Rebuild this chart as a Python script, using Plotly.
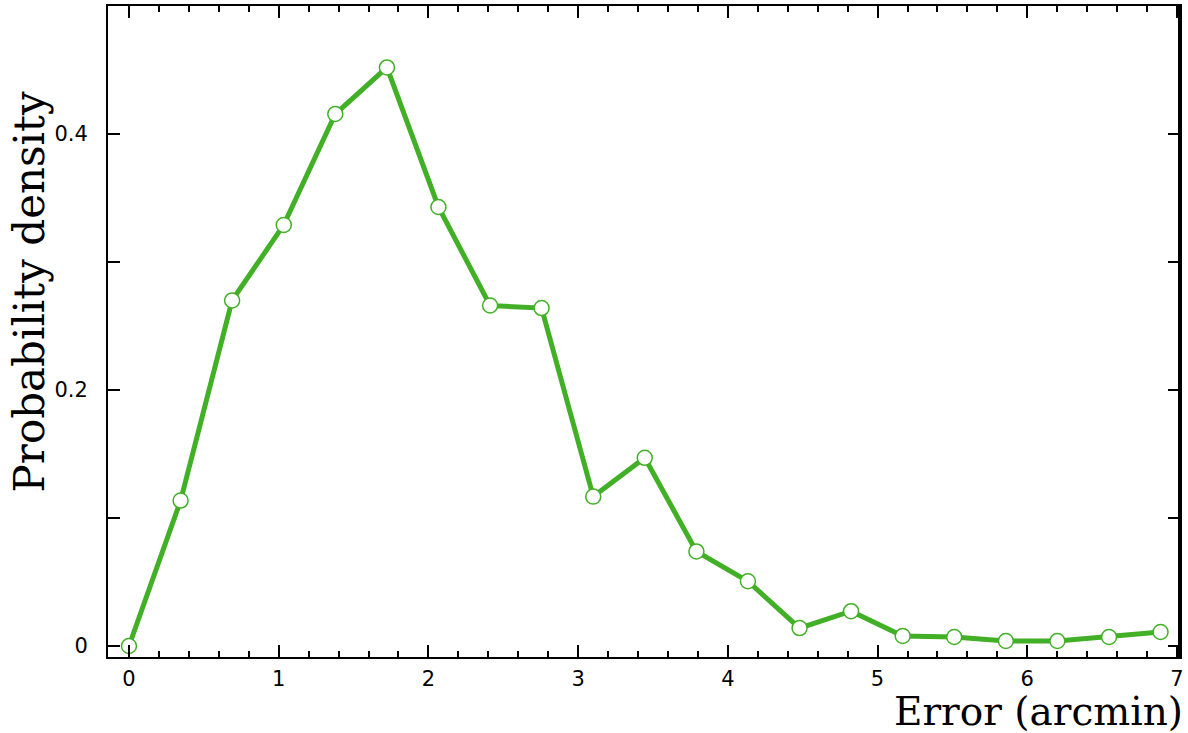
import plotly.graph_objects as go

error_arcmin = [0.0, 0.345, 0.689, 1.034, 1.378, 1.723, 2.067, 2.412, 2.756, 3.101,
                3.445, 3.790, 4.134, 4.479, 4.823, 5.168, 5.512, 5.857, 6.201, 6.546, 6.890]
prob_density = [0.0, 0.1136, 0.270, 0.329, 0.4156, 0.452, 0.343, 0.266, 0.264, 0.1167,
                0.147, 0.0739, 0.0506, 0.014, 0.0272, 0.0078, 0.0070, 0.0039, 0.0039, 0.0070, 0.0109]

x_ticks = [0, 1, 2, 3, 4, 5, 6, 7]
y_ticks = [0, 0.2, 0.4]
y_tick_labels = ["0", "0.2", "0.4"]

GREEN = "rgb(66,176,38)"

fig = go.Figure()
fig.add_trace(go.Scatter(
    x=error_arcmin, y=prob_density, mode="lines+markers",
    line=dict(color=GREEN, width=5),
    marker=dict(size=15, color="white", line=dict(color=GREEN, width=1.5)),
    showlegend=False,
))

axis_common = dict(
    showline=True, linecolor="black", linewidth=2, mirror="ticks",
    ticks="inside", tickcolor="black", tickwidth=2, ticklen=12,
    showgrid=False, zeroline=False,
    tickfont=dict(family="DejaVu Sans", size=21, color="black"),
)

fig.update_layout(
    width=1188, height=733,
    margin=dict(l=108, r=6, t=4, b=76),
    paper_bgcolor="white", plot_bgcolor="white",
    xaxis=dict(range=[-0.14, 7.02], tickvals=x_ticks, ticktext=[str(v) for v in x_ticks],
               minor=dict(dtick=0.2, tick0=0, ticks="inside", ticklen=6, tickwidth=2, tickcolor="black"),
               ticklabelstandoff=2, **axis_common),
    yaxis=dict(range=[-0.0086, 0.5], tickvals=y_ticks, ticktext=y_tick_labels,
               minor=dict(dtick=0.1, tick0=0, ticks="inside", ticklen=12, tickwidth=2, tickcolor="black"),
               ticklabelstandoff=14, **axis_common),
    shapes=[
        dict(type="line", xref="paper", yref="paper", x0=1, x1=1, y0=0, y1=1,
             line=dict(color="black", width=4)),
    ],
    annotations=[
        dict(text="Error (arcmin)", xref="paper", yref="paper", x=1, y=0,
             xanchor="right", yanchor="top", xshift=5, yshift=-30, showarrow=False,
             font=dict(family="DejaVu Serif", size=39, color="black")),
        dict(text="Probability density", xref="paper", yref="paper", x=0, y=0.56,
             xanchor="center", yanchor="middle", xshift=-79, textangle=-90, showarrow=False,
             font=dict(family="DejaVu Serif", size=42, color="black")),
    ],
)

fig.write_html("out.html")
